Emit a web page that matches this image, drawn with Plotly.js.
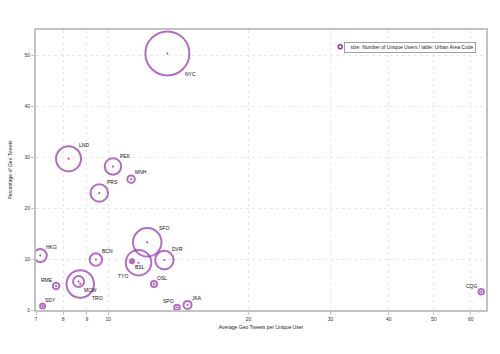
<!DOCTYPE html>
<html><head><meta charset="utf-8">
<script src="https://cdn.plot.ly/plotly-3.0.1.min.js"></script>
<style>html,body{margin:0;padding:0;background:#fff}#chart{width:500px;height:354px}</style>
</head><body><div id="chart"></div>
<script>
// ---- data ----
const codes = ['NYC','LND','PEK','MNH','PRS','SFO','HKG','BCN','DVR','TYO','BSL','OSL','JKA','SPO','RME','SDY','MCW','TRO','CQG'];
const geoTweetsPerUser = [13.4, 8.22, 10.24, 11.2, 9.57, 12.13, 7.15, 9.41, 13.2, 11.62, 11.25, 12.54, 14.8, 14.05, 7.73, 7.23, 8.64, 8.71, 63.2];
const pctGeoTweets = [50.4, 29.7, 28.2, 25.7, 23.0, 13.3, 10.7, 9.9, 9.8, 9.3, 9.6, 5.1, 1.0, 0.5, 4.7, 0.8, 5.6, 5.1, 3.6];
const uniqueUsers = [19400, 6250, 2720, 560, 3060, 8120, 1690, 1560, 3420, 6500, 160, 360, 640, 300, 420, 250, 1210, 7560, 300];
const xTickVals = [7, 8, 9, 10, 20, 30, 40, 50, 60];
const yTickVals = [0, 10, 20, 30, 40, 50];
const legendText = 'size: Number of Unique Users / lable: Urban Area Code';
const xTitle = 'Average Geo Tweets per Unique User';
const yTitle = 'Percentage of Geo Tweets';

// ---- label placement (style) ----
const labelPos = ['br','tr','tr','tr','tr','tr','tr','tr','tr','bl','br','tr','tr','tl','tl','tr','br','br','tl'];

const purple = '#9230ab';
const font = 'Liberation Sans, Arial, Helvetica, sans-serif';
const sizeref = 20;

const circles = {
  type: 'scatter', mode: 'markers',
  x: geoTweetsPerUser, y: pctGeoTweets, text: codes,
  marker: {size: uniqueUsers, sizemode: 'area', sizeref: sizeref,
           color: 'rgba(0,0,0,0)', line: {color: purple, width: 2}},
  hoverinfo: 'skip', showlegend: false
};
const dots = {
  type: 'scatter', mode: 'markers',
  x: geoTweetsPerUser, y: pctGeoTweets,
  marker: {size: 2, color: '#b03cc0'},
  hoverinfo: 'skip', showlegend: false
};

const annotations = codes.map((c, i) => {
  const r = Math.sqrt(uniqueUsers[i] / (2 * sizeref));
  const k = 0.75 * r - 1;
  const p = labelPos[i];
  const sy = p[0] === 't' ? 1 : -1;
  const sx = p[1] === 'r' ? 1 : -1;
  return {
    x: Math.log10(geoTweetsPerUser[i]), y: pctGeoTweets[i], xref: 'x', yref: 'y',
    text: c, showarrow: false,
    xanchor: sx > 0 ? 'left' : 'right', yanchor: sy > 0 ? 'bottom' : 'top',
    xshift: sx * k, yshift: sy * k,
    font: {family: font, size: 5, color: '#111'}
  };
});

// legend box
annotations.push({
  xref: 'paper', yref: 'paper', x: 0.978, y: 0.957, xanchor: 'right', yanchor: 'top',
  text: '&nbsp;&nbsp;&nbsp;' + legendText, showarrow: false, align: 'left',
  bordercolor: '#8a8a8a', borderwidth: 0.8, borderpad: 1.5, bgcolor: '#fff',
  font: {family: font, size: 5, color: '#222'}
});

const W = 450, H = 280;
const layout = {
  width: 500, height: 354,
  margin: {l: 36, r: 14, t: 30, b: 44},
  paper_bgcolor: '#fff', plot_bgcolor: '#fff',
  font: {family: font, size: 5, color: '#333'},
  showlegend: false,
  xaxis: {
    type: 'log', range: [Math.log10(7), Math.log10(64.7)],
    tickmode: 'array', tickvals: xTickVals, ticktext: xTickVals.map(String),
    showgrid: true, gridcolor: '#e8e8e8', griddash: 'dot', gridwidth: 1,
    zeroline: false, showline: true, linecolor: '#c2c2c2', linewidth: 2, mirror: true,
    ticks: 'outside', ticklen: 3, tickcolor: '#c2c2c2', tickwidth: 1,
    tickfont: {family: font, size: 5, color: '#333'},
    title: {text: xTitle, font: {family: font, size: 5, color: '#222'}, standoff: 4},
    automargin: false
  },
  yaxis: {
    range: [0, 55],
    tickmode: 'array', tickvals: yTickVals, ticktext: yTickVals.map(String),
    showgrid: true, gridcolor: '#e8e8e8', griddash: 'dot', gridwidth: 1,
    zeroline: false, showline: true, linecolor: '#c2c2c2', linewidth: 2, mirror: true,
    ticks: 'outside', ticklen: 3, tickcolor: '#c2c2c2', tickwidth: 1,
    tickfont: {family: font, size: 5, color: '#333'},
    title: {text: yTitle, font: {family: font, size: 5, color: '#222'}, standoff: 12},
    automargin: false
  },
  annotations: annotations,
  shapes: [{
    type: 'circle', xref: 'paper', yref: 'paper',
    x0: (338.2 - 36) / W, x1: (342.2 - 36) / W,
    y0: (310 - 48.8) / H, y1: (310 - 44.8) / H,
    line: {color: purple, width: 1.5}, fillcolor: 'rgba(0,0,0,0)'
  }]
};

Plotly.newPlot('chart', [circles, dots], layout, {displayModeBar: false, staticPlot: true});
</script>
</body></html>
